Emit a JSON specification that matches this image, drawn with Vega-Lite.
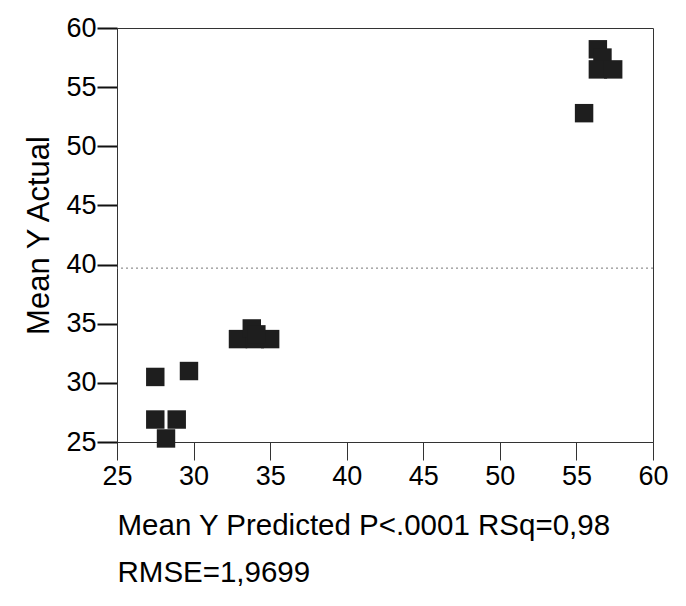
{
  "$schema": "https://vega.github.io/schema/vega-lite/v6.json",
  "autosize": "none",
  "padding": {"left": 117, "top": 28, "right": 33, "bottom": 164},
  "width": 536,
  "height": 414,
  "background": "white",
  "config": {
    "font": "Liberation Sans",
    "view": {"stroke": "#333", "strokeWidth": 1}
  },
  "datasets": {
    "pts": [
      {"pred": 27.5, "actual": 30.5},
      {"pred": 29.7, "actual": 31.0},
      {"pred": 27.5, "actual": 26.9},
      {"pred": 28.9, "actual": 26.9},
      {"pred": 28.2, "actual": 25.3},
      {"pred": 32.9, "actual": 33.7},
      {"pred": 34.0, "actual": 33.7},
      {"pred": 35.0, "actual": 33.7},
      {"pred": 33.8, "actual": 34.6},
      {"pred": 34.1, "actual": 34.1},
      {"pred": 56.4, "actual": 58.2},
      {"pred": 56.7, "actual": 57.5},
      {"pred": 56.4, "actual": 56.5},
      {"pred": 57.4, "actual": 56.5},
      {"pred": 55.5, "actual": 52.8}
    ],
    "meanline": [{"actual": 39.7}]
  },
  "layer": [
    {
      "data": {"name": "meanline"},
      "mark": {"type": "rule", "color": "#777", "strokeDash": [2, 3], "strokeWidth": 1},
      "encoding": {
        "y": {"field": "actual", "type": "quantitative", "scale": {"domain": [25, 60]}}
      }
    },
    {
      "data": {"name": "pts"},
      "mark": {"type": "square", "filled": true, "color": "#1e1e1e", "opacity": 1, "size": 340},
      "encoding": {
        "x": {
          "field": "pred",
          "type": "quantitative",
          "scale": {"domain": [25, 60], "nice": false, "zero": false},
          "axis": {
            "values": [25, 30, 35, 40, 45, 50, 55, 60],
            "grid": false,
            "domainColor": "#333",
            "tickColor": "#333",
            "tickSize": 18,
            "tickWidth": 1,
            "labelFontSize": 27,
            "labelColor": "#000",
            "labelPadding": 3,
            "labelFlush": false,
            "title": ["Mean Y Predicted P<.0001 RSq=0,98", "RMSE=1,9699"],
            "titleFontSize": 29.5,
            "titleFontWeight": "normal",
            "titleColor": "#000",
            "titleAnchor": "start",
            "titleAlign": "left",
            "titleLineHeight": 47,
            "titlePadding": 22
          }
        },
        "y": {
          "field": "actual",
          "type": "quantitative",
          "scale": {"domain": [25, 60], "nice": false, "zero": false},
          "axis": {
            "values": [25, 30, 35, 40, 45, 50, 55, 60],
            "grid": false,
            "domainColor": "#333",
            "tickColor": "#111",
            "tickSize": 20,
            "tickWidth": 2,
            "labelFontSize": 27,
            "labelColor": "#000",
            "labelPadding": 1,
            "labelFlush": false,
            "title": "Mean Y Actual",
            "titleFontSize": 31,
            "titleFontWeight": "normal",
            "titleColor": "#000",
            "titlePadding": 10
          }
        }
      }
    }
  ]
}
